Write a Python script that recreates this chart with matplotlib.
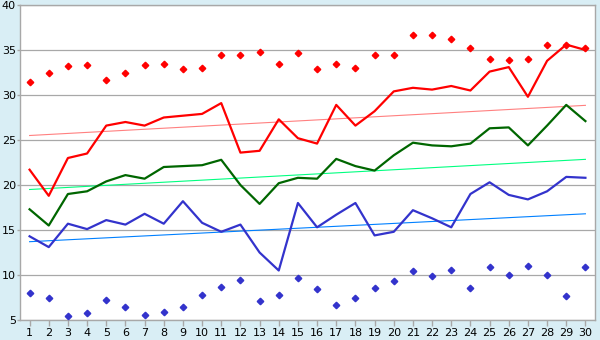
import matplotlib.pyplot as plt
import numpy as np

# ------ data ------
days = list(range(1, 31))

red_line = [21.7, 18.8, 23.0, 23.5, 26.6, 27.0, 26.6, 27.5, 27.7, 27.9,
            29.1, 23.6, 23.8, 27.3, 25.2, 24.6, 28.9, 26.6, 28.2, 30.4,
            30.8, 30.6, 31.0, 30.5, 32.6, 33.1, 29.8, 33.8, 35.6, 35.0]
red_points = [31.4, 32.5, 33.2, 33.3, 31.7, 32.5, 33.3, 33.4, 32.9, 33.0,
              34.5, 34.4, 34.8, 33.4, 34.7, 32.9, 33.4, 33.0, 34.4, 34.4,
              36.7, 36.7, 36.2, 35.2, 34.0, 33.9, 34.0, 35.6, 35.6, 35.2]
red_trend = [25.5, 28.85]

green_line = [17.3, 15.5, 19.0, 19.3, 20.4, 21.1, 20.7, 22.0, 22.1, 22.2,
              22.8, 20.0, 17.9, 20.2, 20.8, 20.7, 22.9, 22.1, 21.6, 23.3,
              24.7, 24.4, 24.3, 24.6, 26.3, 26.4, 24.4, 26.6, 28.9, 27.1]
green_trend = [19.5, 22.85]

blue_line = [14.3, 13.1, 15.7, 15.1, 16.1, 15.6, 16.8, 15.7, 18.2, 15.8,
             14.8, 15.6, 12.5, 10.5, 18.0, 15.3, 16.7, 18.0, 14.4, 14.8,
             17.2, 16.3, 15.3, 19.0, 20.3, 18.9, 18.4, 19.3, 20.9, 20.8]
blue_points = [8.0, 7.4, 5.5, 5.8, 7.2, 6.5, 5.6, 5.9, 6.4, 7.8,
               8.7, 9.4, 7.1, 7.8, 9.7, 8.4, 6.7, 7.4, 8.6, 9.3,
               10.5, 9.9, 10.6, 8.6, 10.9, 10.0, 11.0, 10.0, 7.7, 10.9]
blue_trend = [13.7, 16.8]

y_ticks = [5, 10, 15, 20, 25, 30, 35, 40]

# ------ figure ------
bg = '#d9eef5'
fig = plt.figure(figsize=(6, 3.4), dpi=100, facecolor=bg)
ax = fig.add_axes([20 / 600, 1 - 320 / 340, 575 / 600, 315 / 340])
ax.set_facecolor('white')

ends = [days[0], days[-1]]
ax.plot(ends, red_trend, color='#ff8080', lw=0.8, zorder=2)
ax.plot(ends, green_trend, color='#00ff80', lw=0.8, zorder=2)
ax.plot(ends, blue_trend, color='#0080ff', lw=0.8, zorder=2)

ax.plot(days, red_line, color='#ff0000', lw=1.6, zorder=3)
ax.plot(days, green_line, color='#006600', lw=1.6, zorder=3)
ax.plot(days, blue_line, color='#3333cc', lw=1.6, zorder=3)

ax.plot(days, red_points, ls='none', marker='D', ms=3.3, color='#ff0000', zorder=4)
ax.plot(days, blue_points, ls='none', marker='D', ms=3.3, color='#3333cc', zorder=4)

ax.set_xlim(0.5, 30.5)
ax.set_ylim(5, 40)
ax.set_xticks(days)
ax.set_yticks(y_ticks)
ax.yaxis.grid(True, color='#a8a8a8', lw=0.9)
ax.set_axisbelow(True)

for s in ax.spines.values():
    s.set_color('#a8a8a8')
    s.set_linewidth(1.0)

ax.tick_params(axis='both', colors='#a8a8a8', labelcolor='black',
               labelsize=8, width=1)
ax.tick_params(axis='x', length=4, pad=2)
ax.tick_params(axis='y', length=2, pad=1)

plt.savefig('out.png', dpi=100, facecolor=bg)
